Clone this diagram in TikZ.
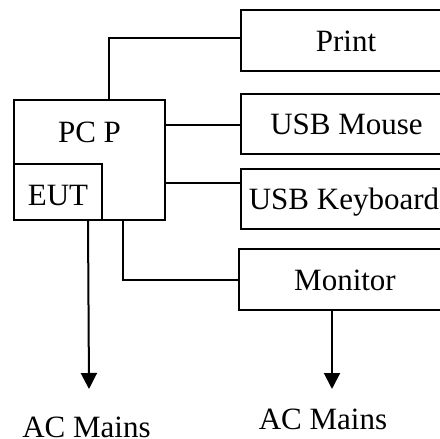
\documentclass[tikz,border=0pt]{standalone}
\usepackage{fontspec}
\setmainfont{Liberation Serif}
\usetikzlibrary{arrows.meta,calc}
\begin{document}
\begin{tikzpicture}[x=1pt,y=-1pt,
  box/.style={draw,line width=2pt,rectangle,inner sep=0pt,font=\fontsize{31}{31}\selectfont,text height=21pt,text depth=0pt},
  lbl/.style={inner sep=0pt,font=\fontsize{31}{31}\selectfont,text height=21pt,text depth=0pt},
  wire/.style={line width=2pt},
  arr/.style={line width=2pt,-{Triangle[width=16pt,length=16pt]}}]
\useasboundingbox (0,0) rectangle (440,439);
\clip (0,0) rectangle (440,439);
% PC box
\node[box,minimum width=151pt,minimum height=120pt] (pc) at (89.5,160) {};
\node[lbl] (pcp) at (89.5,131.5) {PC P};
\node[box,minimum width=88pt,minimum height=56pt] (eut) at (58,192) {};
\node[lbl] (eutl) at (58,195) {EUT};
% right boxes
\node[box,minimum width=210pt,minimum height=61pt] (print) at (346,40.5) {Print};
\node[box,minimum width=211pt,minimum height=60pt] (mouse) at (346.5,124) {USB Mouse};
\node[box,minimum width=211pt,minimum height=60pt] (kbd) at (346.5,199) {};
\node[lbl] (kbdl) at (344,199) {USB Keyboard};
\node[box,minimum width=212pt,minimum height=61pt] (mon) at (345,279.5) {Monitor};
% connectors
\coordinate (pt) at ($(pc.north west)+(96,0)$);
\draw[wire] (pt) |- ($(print.west)+(0,-3)$);
\draw[wire] ($(pc.east)+(0,-34.7)$) -- ($(mouse.west)+(0,1.3)$);
\draw[wire] ($(pc.east)+(0,23)$) -- ($(kbd.west)+(0,-16)$);
\coordinate (mt) at ($(pc.south west)+(109.7,0)$);
\draw[wire] (mt) |- (mon.west);
% mains
\node[lbl] (ac1) at (86.5,427) {AC Mains};
\node[lbl] (ac2) at (323,418.5) {AC Mains};
\coordinate (a1s) at ($(pc.south west)+(75,0)$);
\coordinate (a1e) at (89,389);
\draw[arr] (a1s) -- (a1e);
\coordinate (a2e) at (332,389);
\draw[arr] (mon.south -| a2e) -- (a2e);
\end{tikzpicture}
\end{document}
